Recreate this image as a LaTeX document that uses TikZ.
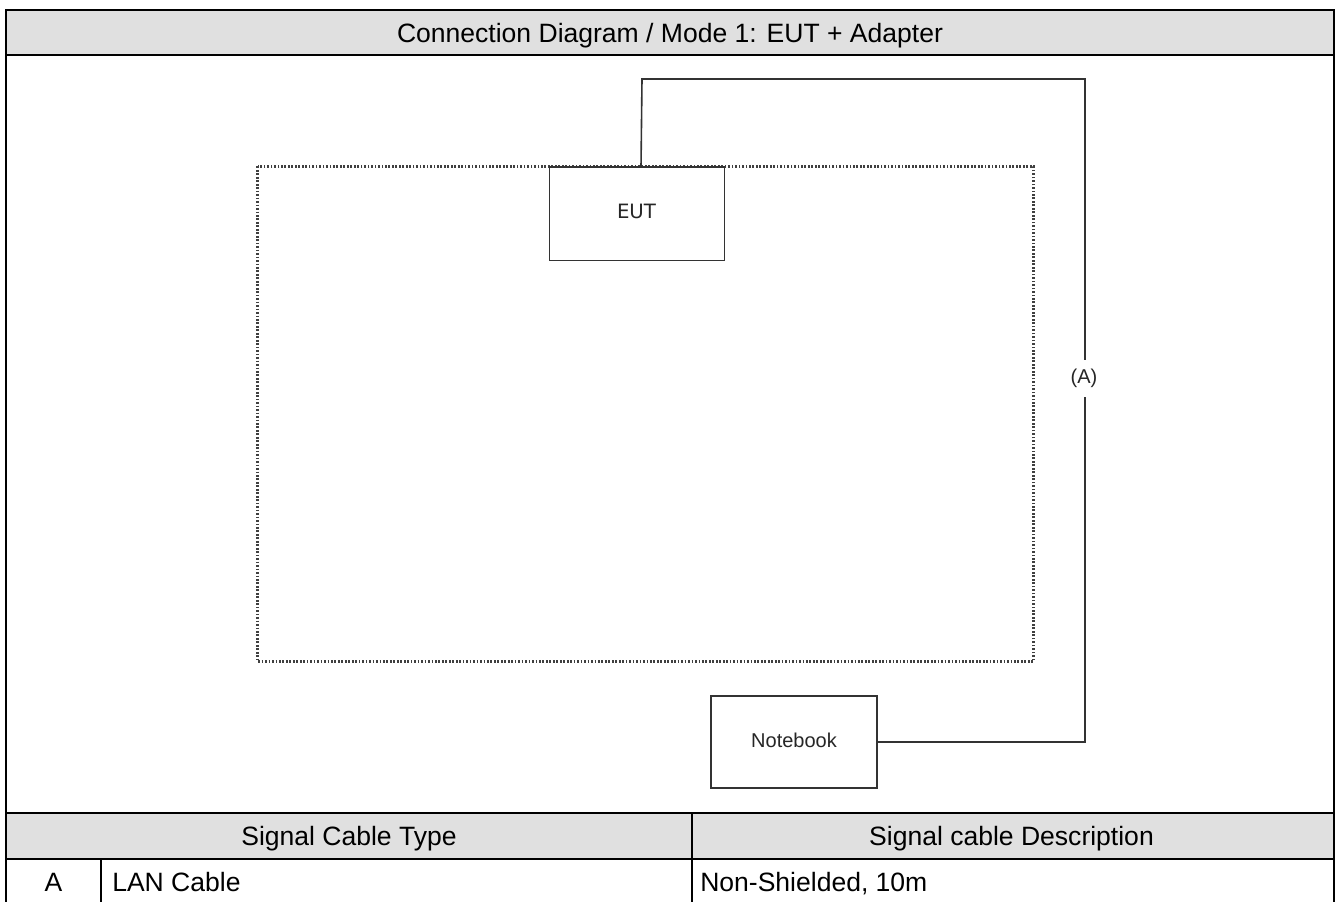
\documentclass[tikz,border=0pt]{standalone}
\usepackage{fontspec}
\setmainfont{Liberation Sans}
\newfontfamily\figfont{DejaVu Sans}
\tikzset{
  tbl/.style={black,line width=1.5pt},
  hdr/.style={fill=black!12,draw=none},
  cell/.style={font=\fontsize{19.9}{22}\selectfont,inner sep=0pt,text=black,anchor=base},
  unit/.style={draw=black!80,line width=1.2pt,fill=white,inner sep=0pt,outer sep=0pt},
  cable/.style={draw=black!80,line width=1.2pt},
  zone/.style={draw=black!75,line width=1.6pt,dash pattern=on 1.3pt off 1.3pt},
  small/.style={font=\fontsize{15}{17}\selectfont,inner sep=0pt,text=black!85}
}
\begin{document}
\begin{tikzpicture}[x=0.75pt,y=-0.75pt]
\useasboundingbox (0,0) rectangle (1339,902);
\fill[white] (0,0) rectangle (1339,902);
\fill[hdr] (6,10) rectangle (1334,55);
\fill[hdr] (6,813) rectangle (1334,858);
\draw[tbl] (6,10) -- (1334,10);
\draw[tbl] (6,55.5) -- (1334,55.5);
\draw[tbl] (6,813) -- (1334,813);
\draw[tbl] (6,858.5) -- (1334,858.5);
\draw[tbl] (6,9.5) -- (6,902);
\draw[tbl] (1334,9.5) -- (1334,902);
\draw[tbl] (692,813) -- (692,902);
\draw[tbl] (101,858.5) -- (101,902);
\node[cell] (title) at (670,42.5) {Connection Diagram / Mode 1: EUT + Adapter};
\node[cell] (typeh) at (349,845.5) {Signal Cable Type};
\node[cell] (desch) at (1011.5,845.5) {Signal cable Description};
\node[cell] (rowa) at (53.5,891) {A};
\node[cell,anchor=base west] (lan) at (112,891) {LAN Cable};
\node[cell,anchor=base west] (nons) at (700,891) {Non-Shielded, 10m};
\draw[zone] (257.5,166.5) rectangle (1033.5,661.5);
\coordinate (c1) at (642,79);
\coordinate (c2) at (1085,79);
\coordinate (c3) at (1085,741.7);
\node[unit,minimum width=131.25pt,minimum height=70pt,anchor=north west] (eut) at (549.3,167.3) {};
\node[small,font=\figfont\fontsize{14.8}{17}\selectfont] (eutl) at (636.5,211) {EUT};
\node[unit,anchor=north west,minimum width=124.5pt,minimum height=69.2pt] (nb) at (710.7,696) {};
\node[small] (nbl) at (794,740) {Notebook};
\draw[cable] (641,167) -- (c1) -- (c2) -- (1085,360);
\draw[cable] (1085,397) -- (c3) -- (nb.east |- c3);
\node[small] (a) at (1084,378) {(A)};
\end{tikzpicture}
\end{document}
